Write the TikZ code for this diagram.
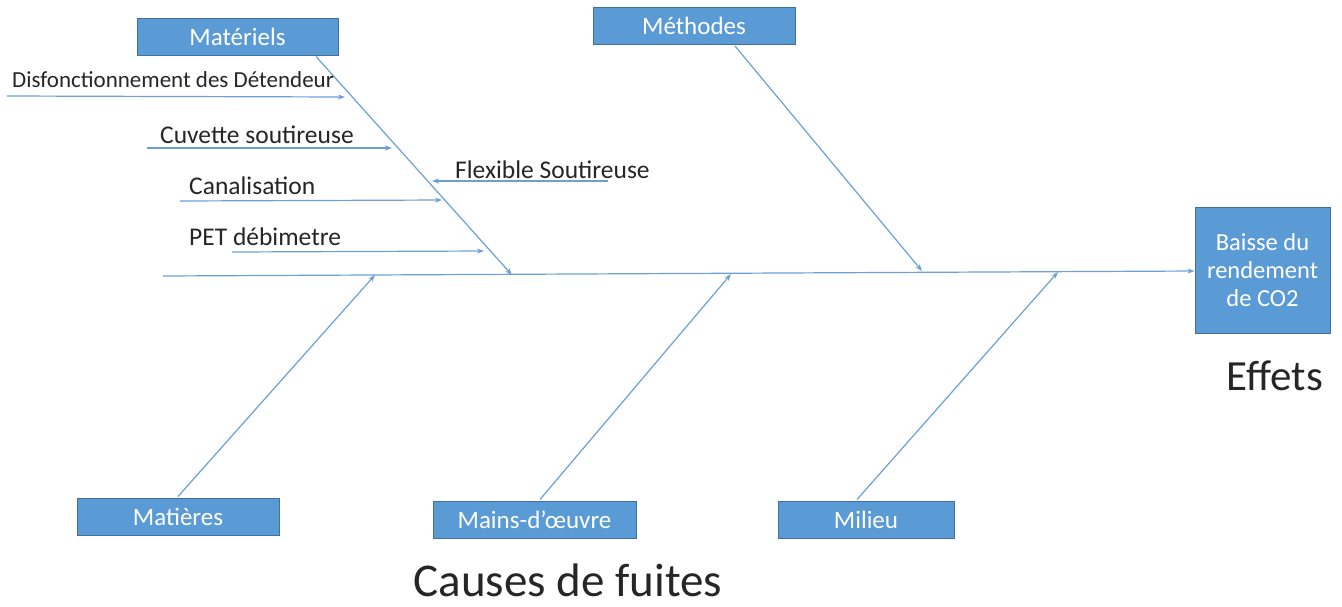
\documentclass[tikz,border=0pt]{standalone}
\usepackage{fontspec}
\setmainfont{Carlito}
\usetikzlibrary{arrows.meta,calc}
\definecolor{boxfill}{HTML}{5B9BD5}
\definecolor{boxline}{HTML}{41719C}
\definecolor{bone}{HTML}{6A9FD8}
\begin{document}
\begin{tikzpicture}[x=1pt,y=-1pt,
  catbox/.style={draw=boxline,line width=1pt,fill=boxfill,text=white,
    minimum height=37pt,inner sep=0pt,font=\fontsize{25}{28}\selectfont},
  boneline/.style={draw=bone,line width=1.2pt,-{Stealth[length=7pt,width=5pt]}},
  causetxt/.style={anchor=base west,inner sep=0pt,text=black!85,font=\fontsize{25.5}{28}\selectfont},
  titletxt/.style={anchor=base,inner sep=0pt,text=black!85}]
\useasboundingbox (0,0) rectangle (1342,606);

% category boxes
\node[catbox,minimum width=201pt] (mat) at (237.5,36.5) {Matériels};
\node[catbox,minimum width=202pt] (meth) at (694,26) {Méthodes};
\node[catbox,minimum width=202pt] (matr) at (178,516.5) {Matières};
\node[catbox,minimum width=203pt] (main) at (534.5,519.5) {Mains-d'œuvre};
\node[catbox,minimum width=176pt] (mil) at (866,519.5) {Milieu};

% effect box
\node[catbox,minimum width=135pt,minimum height=126pt,align=center,
  font=\fontsize{24.5}{28}\selectfont] (eff) at (1262.5,270) {Baisse du\\rendement\\de CO2};

\node[titletxt,font=\fontsize{43}{48}\selectfont] (efft) at (1275,390) {Effets};
\node[titletxt,font=\fontsize{47}{52}\selectfont] (cause) at (568,596) {Causes de fuites};

% spine
\coordinate (spineL) at (163,276);
\draw[boneline] (spineL) -- (eff.west |- 0,271);

% main bones
\coordinate (tMat) at (512,275);
\coordinate (tMeth) at (922,271);
\coordinate (tMatr) at (375,275);
\coordinate (tMain) at (731,274);
\coordinate (tMil) at (1058,272);
\draw[boneline] ($(mat.south)+(78.5,1)$) -- (tMat);
\draw[boneline] ($(meth.south)+(41,1)$) -- (tMeth);
\draw[boneline] ($(matr.north)+(0,-1)$) -- (tMatr);
\draw[boneline] ($(main.north)+(5.5,-1)$) -- (tMain);
\draw[boneline] ($(mil.north)+(-9,-1)$) -- (tMil);

% causes on the Matériels bone
\coordinate (s1) at (7,96);    \coordinate (e1) at (345,97);
\coordinate (s2) at (147,148); \coordinate (e2) at (392,148);
\coordinate (s3) at (180,201); \coordinate (e3) at (442,200);
\coordinate (s4) at (232,252); \coordinate (e4) at (484,251);
\coordinate (s5) at (608,181); \coordinate (e5) at (432,181);
\draw[boneline] (s1) -- (e1);
\draw[boneline] (s2) -- (e2);
\draw[boneline] (s3) -- (e3);
\draw[boneline] (s4) -- (e4);
\draw[boneline] (s5) -- (e5);

\node[causetxt,font=\fontsize{23}{26}\selectfont] (c1) at (12,87) {Disfonctionnement des Détendeur};
\node[causetxt] (c2) at (160,143) {Cuvette soutireuse};
\node[causetxt] (c3) at (189,194) {Canalisation};
\node[causetxt] (c4) at (189,245) {PET débimetre};
\node[causetxt] (c5) at (455,178) {Flexible Soutireuse};
\end{tikzpicture}
\end{document}
